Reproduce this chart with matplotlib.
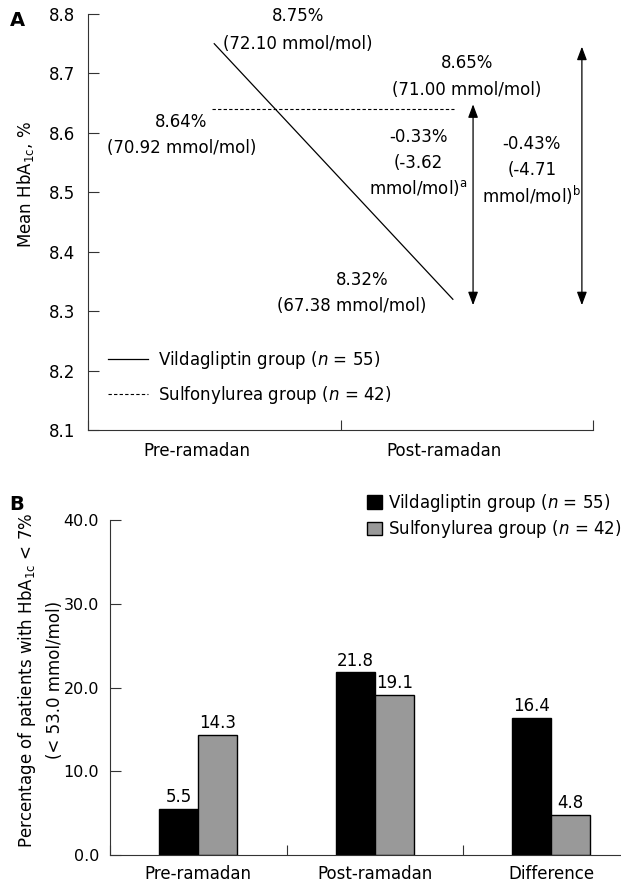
import matplotlib
matplotlib.use("Agg")
import matplotlib.pyplot as plt
from matplotlib.lines import Line2D
from matplotlib.patches import Patch

plt.rcParams['font.family'] = ['DejaVu Sans']
plt.rcParams['mathtext.fontset'] = 'dejavusans'

# ---------------- data ----------------
periods_a = ["Pre-ramadan", "Post-ramadan"]
vilda_hba1c = [8.75, 8.32]
vilda_mmol = [72.10, 67.38]
sulfo_hba1c = [8.64, 8.65]
sulfo_mmol = [70.92, 71.00]
sulfo_line = [8.64, 8.64]          # dashed line as drawn in the figure
diff_sulfo_label = ["-0.33%", "(-3.62", "mmol/mol)$^{\\mathregular{a}}$"]
diff_vilda_label = ["-0.43%", "(-4.71", "mmol/mol)$^{\\mathregular{b}}$"]
yticks_a = [8.1, 8.2, 8.3, 8.4, 8.5, 8.6, 8.7, 8.8]

categories_b = ["Pre-ramadan", "Post-ramadan", "Difference"]
vilda_pct = [5.5, 21.8, 16.4]
sulfo_pct = [14.3, 19.1, 4.8]
yticks_b = [0.0, 10.0, 20.0, 30.0, 40.0]

label_vilda = "Vildagliptin group ($n$ = 55)"
label_sulfo = "Sulfonylurea group ($n$ = 42)"

W, H = 621, 881
fig = plt.figure(figsize=(W / 100, H / 100), dpi=100)
FS = 12

def fx(px):
    return px / W

def fy(py):
    return 1 - py / H

# ---------------- Panel A ----------------
axA = fig.add_axes([fx(88), fy(430), (593 - 88) / W, (430 - 14) / H])
axA.set_xlim(0, 2)
axA.set_ylim(8.1, 8.8)
xa = [0.5, 1.445]
axA.plot(xa, vilda_hba1c, color='black', lw=0.9)
axA.plot([0.49, 1.45], sulfo_line, color='black', lw=0.8, linestyle=(0, (3, 2)))

for s in ['top', 'right']:
    axA.spines[s].set_visible(False)
axA.spines['left'].set_color('#333333')
axA.spines['bottom'].set_color('#333333')

axA.set_yticks(yticks_a)
axA.set_yticklabels([f"{v:.1f}" for v in yticks_a], fontsize=FS)
axA.tick_params(axis='y', direction='in', length=8, pad=9, color='#333333')
axA.set_xticks([0, 1, 2])
axA.set_xticklabels([])
axA.tick_params(axis='x', direction='in', length=7, color='#333333')
axA.set_xticks([0.43, 1.41], minor=True)
axA.set_xticklabels(periods_a, minor=True, fontsize=FS)
axA.tick_params(axis='x', which='minor', length=0, pad=9)
fig.text(fx(25), fy(185), "Mean HbA$_{\\mathregular{1c}}$, %", rotation=90,
         fontsize=FS, ha='center', va='center')

def t(x, y, s):
    axA.text(x, y, s, ha='center', va='center', fontsize=FS)

t(0.832, 8.797, f"{vilda_hba1c[0]:.2f}%")
t(0.832, 8.750, f"({vilda_mmol[0]:.2f} mmol/mol)")
t(1.50, 8.717, f"{sulfo_hba1c[1]:.2f}%")
t(1.50, 8.672, f"({sulfo_mmol[1]:.2f} mmol/mol)")
t(0.368, 8.618, f"{sulfo_hba1c[0]:.2f}%")
t(0.372, 8.574, f"({sulfo_mmol[0]:.2f} mmol/mol)")
t(1.085, 8.352, f"{vilda_hba1c[1]:.2f}%")
t(1.046, 8.308, f"({vilda_mmol[1]:.2f} mmol/mol)")
for i, s in enumerate(diff_sulfo_label):
    t(1.307, 8.593 - i * 0.043, s)
for i, s in enumerate(diff_vilda_label):
    t(1.758, 8.581 - i * 0.043, s)

arrow_kw = dict(arrowstyle='<|-|>,head_length=0.8,head_width=0.3',
                color='black', lw=0.9, shrinkA=0, shrinkB=0, mutation_scale=10)
axA.annotate('', xy=(1.525, vilda_hba1c[1] - 0.01), xytext=(1.525, sulfo_hba1c[0] + 0.008),
             arrowprops=arrow_kw)
axA.annotate('', xy=(1.956, vilda_hba1c[1] - 0.01), xytext=(1.956, vilda_hba1c[0] - 0.005),
             arrowprops=arrow_kw)

handles_a = [Line2D([], [], color='black', lw=0.9),
             Line2D([], [], color='black', lw=0.8, linestyle=(0, (3, 2)))]
axA.legend(handles_a, [label_vilda, label_sulfo], loc='upper left',
           bbox_to_anchor=((108 - 88) / 505, (430 - 349) / 416), frameon=False,
           fontsize=FS, handlelength=2.4, handletextpad=0.6, labelspacing=0.78,
           borderpad=0, borderaxespad=0)

fig.text(fx(17), fy(20), "A", fontsize=14, fontweight='bold', ha='center', va='center')

# ---------------- Panel B ----------------
axB = fig.add_axes([fx(110), fy(855), (W - 110) / W, (855 - 520) / H])
cat_w = 176.5
axB.set_xlim(0, (W - 110) / cat_w)
axB.set_ylim(0, 40)
xb = [0.5, 1.5, 2.5]
bw = 0.22
b1 = axB.bar([x - bw / 2 for x in xb], vilda_pct, width=bw, color='black',
             edgecolor='black', lw=1)
b2 = axB.bar([x + bw / 2 for x in xb], sulfo_pct, width=bw, color='#999999',
             edgecolor='black', lw=1)
for bars, vals in ((b1, vilda_pct), (b2, sulfo_pct)):
    for rect, v in zip(bars, vals):
        axB.annotate(f"{v:.1f}", (rect.get_x() + rect.get_width() / 2, v),
                     xytext=(0, 2), textcoords='offset points',
                     ha='center', va='bottom', fontsize=FS)

for s in ['top', 'right']:
    axB.spines[s].set_visible(False)
axB.spines['left'].set_color('#333333')
axB.spines['bottom'].set_color('#333333')
axB.set_yticks(yticks_b)
axB.set_yticklabels([f"{v:.1f}" for v in yticks_b], fontsize=11.5)
axB.tick_params(axis='y', direction='in', length=8, pad=8, color='#333333')
axB.set_xticks([0, 1, 2])
axB.set_xticklabels([])
axB.tick_params(axis='x', direction='in', length=7, color='#333333')
axB.set_xticks(xb, minor=True)
axB.set_xticklabels(categories_b, minor=True, fontsize=FS)
axB.tick_params(axis='x', which='minor', length=0, pad=7)

fig.text(fx(27), fy(680), "Percentage of patients with HbA$_{\\mathregular{1c}}$ < 7%",
         rotation=90, fontsize=FS, ha='center', va='center')
fig.text(fx(55), fy(680), "(< 53.0 mmol/mol)",
         rotation=90, fontsize=FS, ha='center', va='center')

handles_b = [Patch(facecolor='black', edgecolor='black'),
             Patch(facecolor='#999999', edgecolor='black')]
fig.legend(handles_b, [label_vilda, label_sulfo], loc='upper left',
           bbox_to_anchor=(fx(367), fy(492)), frameon=False, fontsize=FS,
           handlelength=0.9, handleheight=0.9, handletextpad=0.35,
           labelspacing=0.25, borderpad=0, borderaxespad=0)

fig.text(fx(17), fy(505), "B", fontsize=14, fontweight='bold', ha='center', va='center')

fig.savefig("out.png", dpi=100)
